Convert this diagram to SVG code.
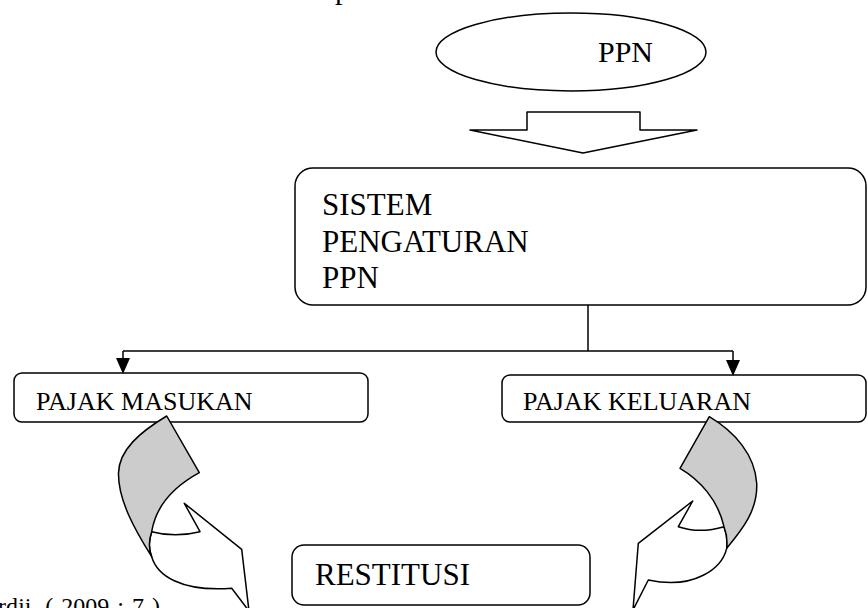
<svg xmlns="http://www.w3.org/2000/svg" width="868" height="608" viewBox="0 0 868 608">
<defs>
<style>
.s{fill:none;stroke:#000;stroke-width:1.5}
.box{fill:#fff;stroke:#000;stroke-width:1.5}
.t{font-family:"Liberation Serif","Times New Roman",serif;fill:#000}
.g{fill:#cccccc;stroke:#000;stroke-width:1.5;stroke-linejoin:round}
.w{fill:#fff;stroke:#000;stroke-width:1.5;stroke-linejoin:round}
.ah{fill:#000;stroke:none}
</style>
</defs>
<rect width="868" height="608" fill="#fff"/>
<text class="t" x="335" y="-1" font-size="30">p</text>
<g id="ppn">
<ellipse class="box" cx="571" cy="52" rx="135" ry="39"/>
<text class="t" x="598" y="62" font-size="30">PPN</text>
</g>
<g id="sistem">
<rect class="box" x="295" y="168" width="571" height="137" rx="18" ry="18"/>
<text class="t" x="322" y="215" font-size="31">SISTEM</text>
<text class="t" x="322" y="252" font-size="31">PENGATURAN</text>
<text class="t" x="322" y="288" font-size="31">PPN</text>
</g>
<g id="pajak-masukan">
<rect class="box" x="14" y="373" width="354" height="49" rx="8" ry="8"/>
<text class="t" x="36" y="410" font-size="26">PAJAK MASUKAN</text>
</g>
<g id="pajak-keluaran">
<rect class="box" x="502" y="375" width="364" height="47" rx="8" ry="8"/>
<text class="t" x="523" y="410" font-size="26">PAJAK KELUARAN</text>
</g>
<g id="restitusi">
<rect class="box" x="292" y="545" width="298" height="60" rx="12" ry="12"/>
<text class="t" x="315" y="585" font-size="31">RESTITUSI</text>
</g>
<g id="connectors">
<path class="w" d="M527,112 L640,112 L640,130 L697,130 L583,153 L470,130 L527,130 Z"/>
<path class="s" d="M588,305 L588,351 M123,351 L733,351 M123,351 L123,360 M733,351 L733,362"/>
<polygon class="ah" points="116,358 130,358 123,374"/>
<polygon class="ah" points="726,360 740,360 733,376"/>
<path class="w" d="M151.7,531.7 Q147,545 151.7,556.7 C157,575 180,592 231.7,588.3 L249,611 L241.7,549.3 L184.3,503.3 L200,531.7 Q175,538 151.7,531.7 Z"/>
<path class="g" d="M166.7,416 C140,432 119,450 118.5,473 C118,500 135,530 151.7,556.7 Q147,545 151.7,531.7 C156,505 175,486 199.3,472.7 Z"/>
<path class="w" d="M724,526.7 Q728,537 726.7,548.3 C722,568 695,590 648.3,580 L633,610 L638.3,543.3 L692.7,501 L678.3,526.7 Q700,534 724,526.7 Z"/>
<path class="g" d="M709.3,416.7 C735,432 755,455 756.7,483.3 C758,510 742,530 726.7,548.3 Q728,537 724,526.7 C718,500 700,480 680,468.3 Z"/>
</g>
<text class="t" font-size="24" x="-2" y="614" word-spacing="2">rdji. ( 2009 : 7 )</text>
</svg>
